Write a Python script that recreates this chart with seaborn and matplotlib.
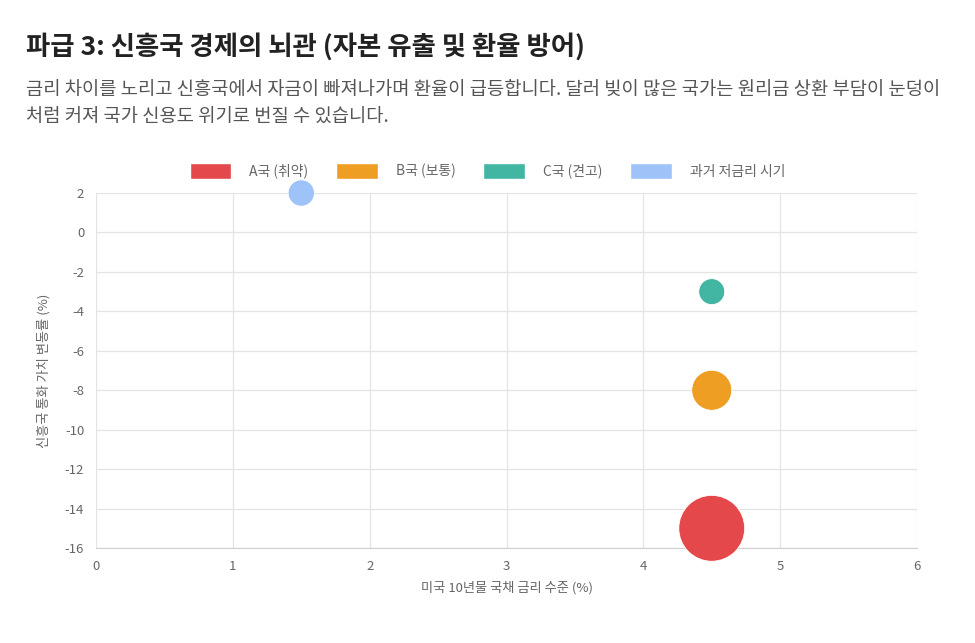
import pandas as pd
import seaborn as sns
import matplotlib.pyplot as plt
from matplotlib.patches import Patch

# 데이터
국가 = ["A국 (취약)", "B국 (보통)", "C국 (견고)", "과거 저금리 시기"]
미국금리 = [4.5, 4.5, 4.5, 1.5]
통화변동 = [-15, -8, -3, 2]
버블크기 = [2250, 830, 350, 360]
색상 = ["#E5484A", "#EE9E22", "#42B6A2", "#9DC3F9"]

tabela = pd.DataFrame({"국가": 국가, "금리": 미국금리, "변동": 통화변동})

sns.set_style("white")
plt.rcParams['font.family'] = ['Noto Sans CJK KR', 'DejaVu Sans']
plt.rcParams['axes.unicode_minus'] = False

fig = plt.figure(figsize=(9.75, 6.43), dpi=100)
ax = fig.add_axes([0.0985, 0.1477, 0.842, 0.5521])

sns.scatterplot(data=tabela, x="금리", y="변동", hue="국가", size="국가",
                palette=dict(zip(국가, 색상)), sizes=dict(zip(국가, 버블크기)),
                edgecolor="white", linewidth=0.6, legend=False, ax=ax,
                zorder=3, clip_on=False)

ax.set_xlim(0, 6)
ax.set_ylim(-16, 2)
ax.set_xticks(range(0, 7))
ax.set_yticks(range(-16, 3, 2))
ax.grid(True, color="#E4E4E4", linewidth=0.9)
ax.set_axisbelow(True)
for lado in ["top", "right", "left"]:
    ax.spines[lado].set_visible(False)
ax.spines["bottom"].set_color("#CFCFCF")
ax.tick_params(axis="both", colors="#666666", labelsize=9.5, length=5, width=0.8)
ax.tick_params(axis="both", color="#E4E4E4")
ax.set_xlabel("미국 10년물 국채 금리 수준 (%)", color="#666666", fontsize=9.5, labelpad=6)
ax.set_ylabel("신흥국 통화 가치 변동률 (%)", color="#666666", fontsize=9.5, labelpad=10)

# 범례
handles = [Patch(facecolor=c, edgecolor="white", label=n) for n, c in zip(국가, 색상)]
fig.legend(handles=handles, loc="center", bbox_to_anchor=(0.5, 0.734), ncol=4,
           frameon=False, fontsize=10, labelcolor="#666666", handlelength=3.0,
           handleheight=1.4, columnspacing=2.0, handletextpad=1.3)

# 제목
fig.text(0.027, 0.927, "파급 3: 신흥국 경제의 뇌관 (자본 유출 및 환율 방어)",
         fontsize=19, fontweight="bold", color="#222222", va="center")
fig.text(0.027, 0.861, "금리 차이를 노리고 신흥국에서 자금이 빠져나가며 환율이 급등합니다. 달러 빚이 많은 국가는 원리금 상환 부담이 눈덩이",
         fontsize=13.5, color="#555555", va="center")
fig.text(0.027, 0.818, "처럼 커져 국가 신용도 위기로 번질 수 있습니다.",
         fontsize=13.5, color="#555555", va="center")

plt.savefig("out.png", dpi=100)
plt.close()
